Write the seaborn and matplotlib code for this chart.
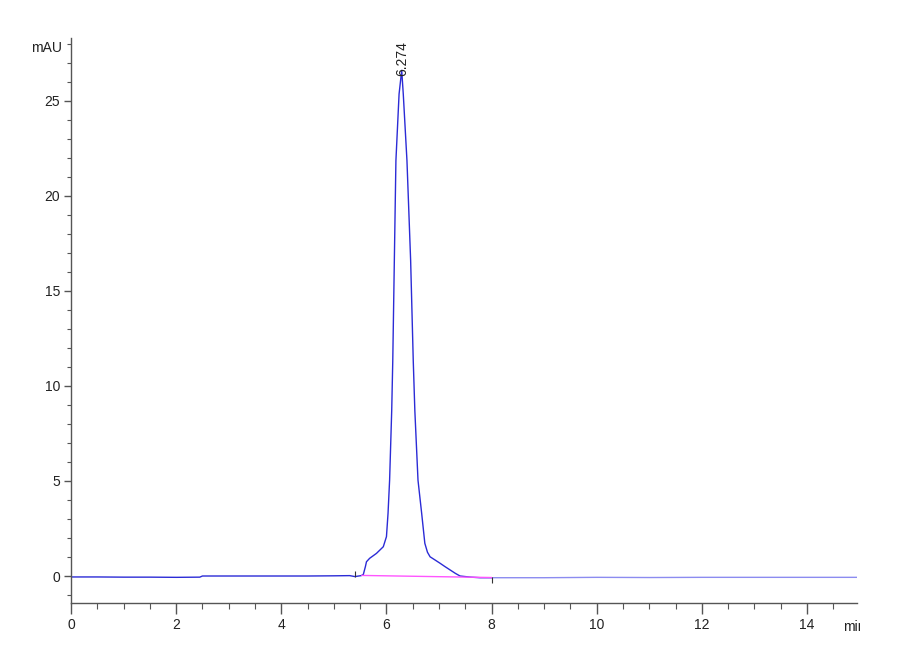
import numpy as np
import pandas as pd
import matplotlib
matplotlib.use("Agg")
import matplotlib.pyplot as plt
import seaborn as sns
from matplotlib.transforms import Bbox

# chromatogram trace (min, mAU)
time_main = [0.0, 0.5, 1.0, 1.5, 2.0, 2.45, 2.5, 3.0, 3.5, 4.0, 4.5, 5.0, 5.3,
             5.40, 5.52, 5.56, 5.60, 5.62, 5.68, 5.81, 5.94, 6.00, 6.03, 6.06,
             6.10, 6.12, 6.15, 6.18, 6.24, 6.29, 6.32, 6.39, 6.46, 6.51, 6.54,
             6.60, 6.67, 6.73, 6.78, 6.83, 6.92, 7.02, 7.11, 7.21, 7.31, 7.40,
             7.60, 7.78, 8.00]
signal_main = [-0.05, -0.05, -0.06, -0.06, -0.07, -0.06, 0.0, 0.0, 0.0, 0.0, 0.0, 0.01, 0.02,
               -0.03, 0.02, 0.08, 0.5, 0.75, 0.93, 1.19, 1.54, 2.07, 3.29, 5.04,
               8.7, 11.3, 16.6, 21.85, 25.35, 26.6, 25.35, 21.85, 16.6, 11.3, 8.7,
               5.04, 3.29, 1.72, 1.25, 1.01, 0.85, 0.67, 0.5, 0.32, 0.14, 0.0,
               -0.06, -0.09, -0.09]
time_tail = [8.00, 9.0, 10.0, 11.0, 12.0, 13.0, 14.0, 14.95]
signal_tail = [-0.09, -0.09, -0.07, -0.08, -0.07, -0.07, -0.07, -0.07]

# integration baseline and event marks
base_t = [5.53, 8.0]
base_y = [0.03, -0.08]
mark_t = [5.41, 8.0]
mark_lo = [-0.07, -0.37]
mark_hi = [0.28, -0.05]

peak_rt = 6.274
peak_h = 26.6

sns.set_style("ticks")
plt.rcParams['font.family'] = ['Liberation Sans Narrow', 'Liberation Sans', 'DejaVu Sans']

fig = plt.figure(figsize=(9, 6.6), dpi=100)
ax = fig.add_axes([71 / 900, 57 / 660, (857 - 71) / 900, (603 - 38) / 660])

df_main = pd.DataFrame({"t": time_main, "y": signal_main})
df_tail = pd.DataFrame({"t": time_tail, "y": signal_tail})
sns.lineplot(data=df_main, x="t", y="y", ax=ax, color="#2b2bd6", lw=1.0, sort=False)
sns.lineplot(data=df_tail, x="t", y="y", ax=ax, color="#8c8cf0", lw=1.0, sort=False)
ax.plot(base_t, base_y, color="#ff55ff", lw=1.0)
ax.vlines(mark_t, mark_lo, mark_hi, color="#333333", lw=0.8)

ax.text(peak_rt + 0.02, peak_h - 0.3, f"{peak_rt:.3f}", rotation=90, ha="center",
        va="bottom", fontsize=10, color="#222222")

ax.set_xlim(0, 14.95)
ax.set_ylim(-1.42, 28.3)
ax.set_xticks(np.arange(0, 15, 2))
ax.set_xticks(np.arange(0, 15, 0.5), minor=True)
ax.set_yticks(np.arange(0, 26, 5))
ax.set_yticks(np.arange(-1, 29, 1), minor=True)
ax.set_xlabel("")
ax.set_ylabel("")
sns.despine(ax=ax)
for s in ["left", "bottom"]:
    ax.spines[s].set_color("#555555")
    ax.spines[s].set_linewidth(1.0)
ax.tick_params(axis="x", which="major", length=8, width=1, color="#555555", pad=3,
               labelsize=10, labelcolor="#222222")
ax.tick_params(axis="x", which="minor", length=4, width=0.8, color="#555555")
ax.tick_params(axis="y", which="major", length=5, width=1, color="#555555", pad=3,
               labelsize=10, labelcolor="#222222")
ax.tick_params(axis="y", which="minor", length=3, width=0.8, color="#555555")

fig.text(62 / 900, 1 - 48 / 660, "mAU", ha="right", va="center", fontsize=10, color="#222222")
unit = fig.text(843 / 900, 1 - 627 / 660, "min", ha="left", va="center", fontsize=10, color="#222222")
unit.set_clip_box(Bbox.from_extents(0, 0, 860, 660))

fig.savefig("out.png", dpi=100)
